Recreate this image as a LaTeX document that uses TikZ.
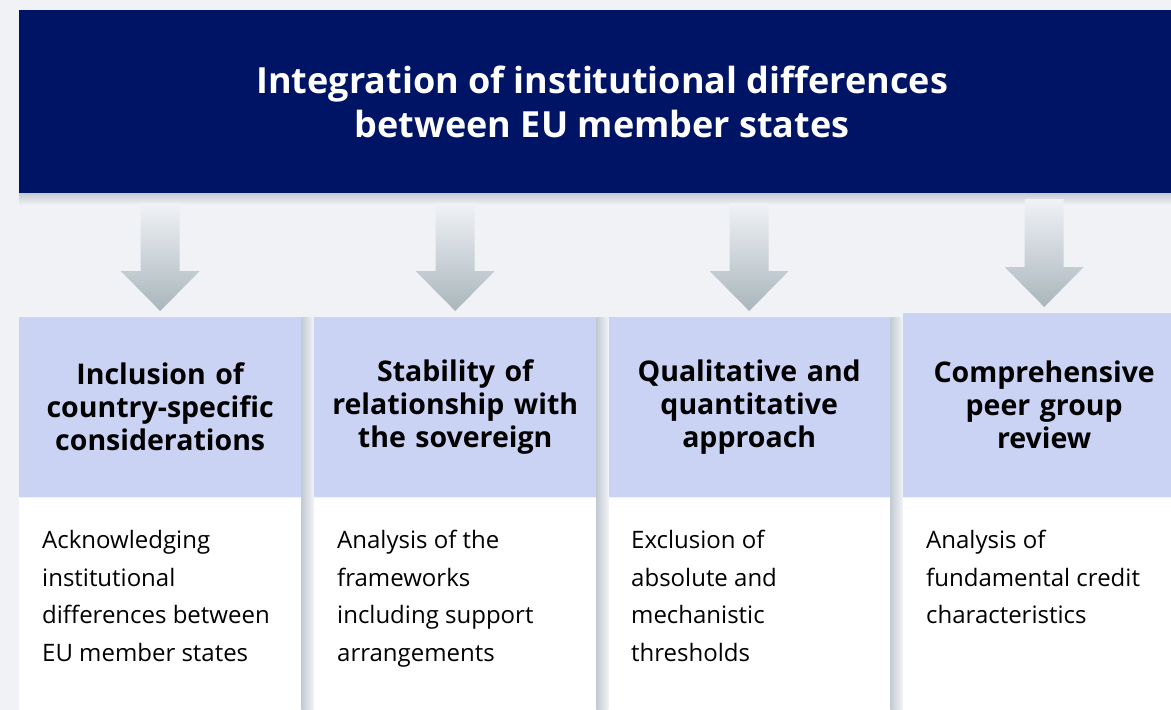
\documentclass[tikz,border=0pt]{standalone}
\usepackage{fontspec}
\setmainfont{Open Sans}
\usetikzlibrary{positioning,calc}

\definecolor{pagebg}{HTML}{F0F2F6}
\definecolor{navy}{HTML}{001466}
\definecolor{lavender}{HTML}{CBD3F5}
\definecolor{arrowgrey}{HTML}{A9B6BC}
\definecolor{shadegrey}{HTML}{C3CBD2}

\tikzset{
  titlebox/.style={fill=navy, text=white, anchor=north west, inner sep=0pt,
    minimum width=1166pt, minimum height=183pt, align=center,
    font=\bfseries\fontsize{36}{44}\selectfont},
  headbox/.style={fill=lavender, anchor=north west, inner sep=0pt,
    minimum width=282pt, minimum height=180pt, text width=270pt, align=center,
    font=\bfseries\fontsize{28.5}{33}\selectfont},
  bodybox/.style={fill=white, anchor=north west, inner sep=0pt,
    minimum width=282pt, minimum height=225pt},
  bodytext/.style={anchor=north west, inner sep=0pt, align=left,
    font=\fontsize{24}{37.5}\selectfont},
  arrowshade/.style={top color=pagebg, bottom color=arrowgrey},
  sideshade/.style={left color=shadegrey, right color=pagebg}
}

\begin{document}
\begin{tikzpicture}[x=1pt,y=-1pt]
  \fill[pagebg] (0,0) rectangle (1171,710);
  \useasboundingbox (0,0) rectangle (1171,710);

  % title
  \shade[top color=shadegrey, bottom color=pagebg] (19,193) rectangle (1185,205);
  \node[titlebox] (title) at (19,10) {Integration of institutional differences\\between EU member states};

  % columns
  \node[headbox] (h1) at (19,317) {Inclusion of\\country-specific\\considerations};
  \node[headbox] (h2) at (314,317) {Stability of\\relationship with\\the sovereign};
  \node[headbox] (h3) at (608,317) {Qualitative and\\quantitative\\approach};
  \node[headbox, minimum height=184pt] (h4) at (903,313) {Comprehensive\\peer group\\review};

  \node[bodybox] (b1) at (h1.south west) {};
  \node[bodybox] (b2) at (h2.south west) {};
  \node[bodybox] (b3) at (h3.south west) {};
  \node[bodybox] (b4) at (h4.south west) {};

  % shadows right of the columns
  \foreach \b in {1,2,3}{
    \shade[sideshade] (h\b.north east) rectangle ($(b\b.south east)+(12,0)$);
  }

  \node[bodytext] (t1) at ($(b1.north west)+(23,33)$) {Acknowledging\\institutional\\differences between\\EU member states};
  \node[bodytext] (t2) at ($(b2.north west)+(23,33)$) {Analysis of the\\frameworks\\including support\\arrangements};
  \node[bodytext] (t3) at ($(b3.north west)+(23,33)$) {Exclusion of\\absolute and\\mechanistic\\thresholds};
  \node[bodytext] (t4) at ($(b4.north west)+(23,33)$) {Analysis of\\fundamental credit\\characteristics};

  % arrows from title to columns
  \foreach \b in {h1,h2,h3,h4}{
    \shade[arrowshade] ($(\b.north)+(-19.5,-114)$) -- ++(39,0) -- ++(0,68) -- ++(20,0)
      -- ++(-39.5,40) -- ++(-39.5,-40) -- ++(20,0) -- cycle;
  }
\end{tikzpicture}
\end{document}
